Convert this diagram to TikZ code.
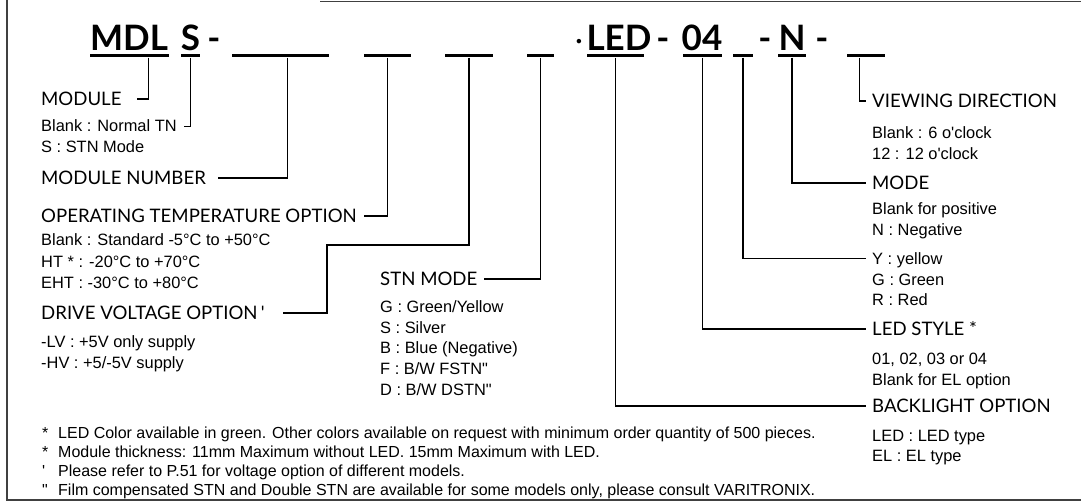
\documentclass[tikz,border=0pt]{standalone}
\usepackage{fontspec}
\setmainfont{Liberation Sans}[Ligatures=TeXOff]
\newfontfamily\headfont{Lato}[Ligatures=TeXOff]
\usetikzlibrary{positioning}

\begin{document}
\begin{tikzpicture}[x=1bp,y=-1bp,node distance=20.7bp]
\tikzstyle{code}=[font=\headfont\bfseries\fontsize{35bp}{35bp}\selectfont,anchor=base,inner sep=0]
\tikzstyle{bar}=[fill=black,minimum height=3bp,inner sep=0]
\tikzstyle{head}=[font=\headfont\fontsize{18.6bp}{18.6bp}\selectfont,anchor=base west,inner sep=0,text height=13bp,text depth=0bp]
\tikzstyle{item}=[font=\fontsize{16.4bp}{16.4bp}\selectfont,anchor=base west,inner sep=0,text height=11.7bp,text depth=0bp]
\tikzstyle{nextrow}=[anchor=base west]
\tikzstyle{note}=[font=\fontsize{16bp}{16bp}\selectfont,anchor=base west,inner sep=0]
\tikzstyle{link}=[line width=1.2bp,shorten >=7bp]
\tikzstyle{frame}=[black!75,line width=1.2bp]

\useasboundingbox (0,0) rectangle (1081,503);
\draw[frame] (320,1.5) -- (1081,1.5);
\draw[frame] (7,0) |- (1081,500);

% part number
\node[code] (mdl) at (129,51) {MDL};
\node[code] (s) at (190.5,51) {S};
\node[code] (d1) at (214,51) {-};
\node[code, font=\headfont\fontsize{30bp}{30bp}\selectfont] (dot) at (579,51) {·};
\node[code] (led) at (619,51) {LED};
\node[code] (d2) at (663,51) {-};
\node[code] (n04) at (702,51) {04};
\node[code] (d3) at (765,51) {-};
\node[code] (n) at (792,51) {N};
\node[code] (d4) at (822,51) {-};

% underlines and blanks
\foreach \nm/\cx/\w in {bmdl/129.5/79, bs/190.5/19, bb1/280.5/97, bb2/387.5/47, bb3/469/48, bb4/540.5/27,
  bled/615.5/57, b04/702.5/39, bb5/743/20, bn/792/28, bb6/866/38}
  \node[bar,minimum width=\w bp] (\nm) at (\cx,56) {};

% left column
\node[head] (module) at (41,105.5) {MODULE};
\node[item] (tn1) at (41,132) {Blank : Normal TN};
\node[item] (tn2) [below=of tn1.base west, nextrow] {S : STN Mode};
\node[head] (modnum) at (41,184.5) {MODULE NUMBER};
\node[head] (optemp) at (41,222.5) {OPERATING TEMPERATURE OPTION};
\node[item] (temp1) at (41,245.5) {Blank : Standard -5°C to +50°C};
\node[item] (temp2) [below=22bp of temp1.base west, nextrow] {HT * : -20°C to +70°C};
\node[item] (temp3) [below=21.5bp of temp2.base west, nextrow] {EHT : -30°C to +80°C};
\node[head] (drive) at (41,319.5) {DRIVE VOLTAGE OPTION\,'};
\node[item] (volt1) at (41,347.5) {-LV : +5V only supply};
\node[item] (volt2) [below=of volt1.base west, nextrow] {-HV : +5/-5V supply};

% middle column
\node[head] (stn) at (380,285.5) {STN MODE};
\node[item] (stn1) at (380,312.5) {G : Green/Yellow};
\node[item] (stn2) [below=of stn1.base west, nextrow] {S : Silver};
\node[item] (stn3) [below=of stn2.base west, nextrow] {B : Blue (Negative)};
\node[item] (stn4) [below=of stn3.base west, nextrow] {F : B/W FSTN"};
\node[item] (stn5) [below=of stn4.base west, nextrow] {D : B/W DSTN"};

% right column
\node[head] (view) at (872,107.5) {VIEWING DIRECTION};
\node[item] (view1) at (872,138.5) {Blank : 6 o'clock};
\node[item] (view2) [below=of view1.base west, nextrow] {12 : 12 o'clock};
\node[head] (mode) at (872,189.5) {MODE};
\node[item] (mode1) at (872,214.5) {Blank for positive};
\node[item] (mode2) [below=of mode1.base west, nextrow] {N : Negative};
\node[item] (col1) at (872,264.5) {Y : yellow};
\node[item] (col2) [below=of col1.base west, nextrow] {G : Green};
\node[item] (col3) [below=of col2.base west, nextrow] {R : Red};
\node[head] (ledst) at (872,335.5) {LED STYLE *};
\node[item] (ledst1) at (872,365) {01, 02, 03 or 04};
\node[item] (ledst2) [below=of ledst1.base west, nextrow] {Blank for EL option};
\node[head] (backl) at (872,412.5) {BACKLIGHT OPTION};
\node[item] (backl1) at (872,441) {LED : LED type};
\node[item] (backl2) [below=of backl1.base west, nextrow] {EL : EL type};

% footnotes
\node[note] (fn1) at (42,438) {\makebox[16bp][l]{*}LED Color available in green. Other colors available on request with minimum order quantity of 500 pieces.};
\node[note] (fn2) [below=19bp of fn1.base west, nextrow] {\makebox[16bp][l]{*}Module thickness: 11mm Maximum without LED. 15mm Maximum with LED.};
\node[note] (fn3) [below=19bp of fn2.base west, nextrow] {\makebox[16bp][l]{'}Please refer to P.51 for voltage option of different models.};
\node[note] (fn4) [below=19bp of fn3.base west, nextrow] {\makebox[16bp][l]{"}Film compensated STN and Double STN are available for some models only, please consult VARITRONIX.};

% connectors
\draw[link, shorten >=15bp] ([xshift=58.5bp]bmdl.south west) |- (module.east);
\draw[link] (bs.south) |- (tn1.east);
\draw[link, shorten >=12bp] ([xshift=55.5bp]bb1.south west) |- (modnum.east);
\draw[link] (bb2.south) |- (optemp.east);
\coordinate (jog) at (327,245);
\draw[link, shorten >=18bp] (bb3.south) |- (jog) |- (drive.east);
\draw[link] (bb4.south) |- (stn.east);
\draw[link, shorten >=6bp] (bled.south) |- (backl.west);
\draw[link, shorten >=6bp] (b04.south) |- (ledst.west);
\draw[link, shorten >=6bp] (bb5.south) |- (col1.west);
\draw[link, shorten >=6bp] (bn.south) |- (mode.west);
\draw[link, shorten >=6bp] ([xshift=13bp]bb6.south west) |- (view.west);
\end{tikzpicture}
\end{document}
